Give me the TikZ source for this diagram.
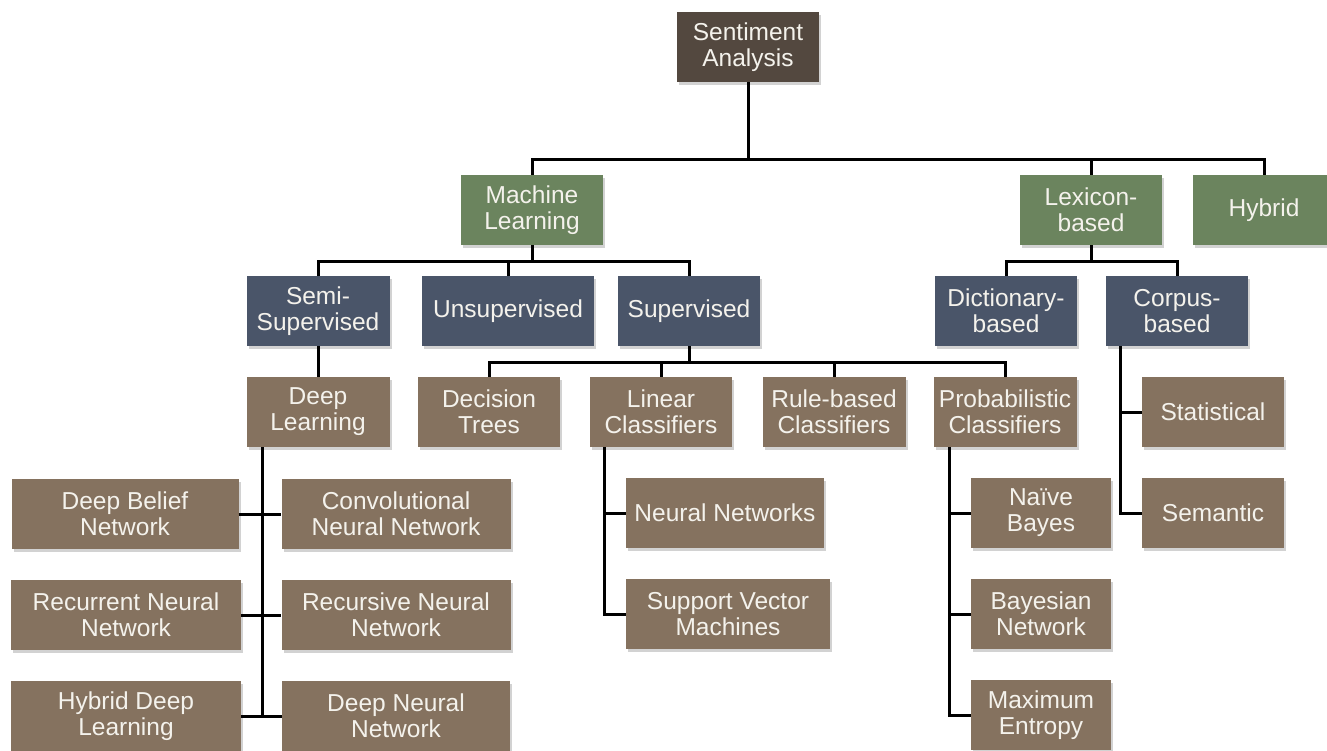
\documentclass[tikz,border=0pt]{standalone}
\usepackage{fontspec}
\setmainfont{Liberation Sans}
\usetikzlibrary{shadows}
\definecolor{cdark}{HTML}{53483F}
\definecolor{cgreen}{HTML}{6B845E}
\definecolor{cblue}{HTML}{4A5569}
\definecolor{cbrown}{HTML}{85725F}
\definecolor{ctext}{HTML}{F4F2EC}
\tikzset{
  box/.style={rectangle, minimum height=70pt, inner sep=0pt, align=center,
    text=ctext, font=\fontsize{24.5}{26}\selectfont,
    drop shadow={opacity=0.35, shadow xshift=2pt, shadow yshift=-3pt}},
  darkbox/.style={box, fill=cdark},
  greenbox/.style={box, fill=cgreen},
  bluebox/.style={box, fill=cblue},
  brownbox/.style={box, fill=cbrown},
  conn/.style={draw=black, line width=3pt, line join=miter}
}
\begin{document}
\begin{tikzpicture}[x=1pt, y=-1pt]
\useasboundingbox (0,0) rectangle (1327,751);
\fill[white] (0,0) rectangle (1327,751);
% buses
\coordinate (bus1) at (0,160);
\coordinate (bus2) at (0,262);
\coordinate (bus3) at (0,362);
% level 1
\node[darkbox, minimum width=142pt] (sa) at (748,47) {Sentiment\\Analysis};
% level 2
\node[greenbox, minimum width=142pt] (ml) at (532,210) {Machine\\Learning};
\node[greenbox, minimum width=142pt] (lex) at (1091,210) {Lexicon-\\based};
\node[greenbox, minimum width=142pt] (hyb) at (1264,210) {Hybrid};
% level 3
\node[bluebox, minimum width=143pt] (semi) at (318,311) {Semi-\\Supervised};
\node[bluebox, minimum width=172pt] (unsup) at (508,311) {Unsupervised};
\node[bluebox, minimum width=142pt] (sup) at (689,311) {Supervised};
\node[bluebox, minimum width=142pt] (dict) at (1006,311) {Dictionary-\\based};
\node[bluebox, minimum width=142pt] (corp) at (1177,311) {Corpus-\\based};
% level 4
\node[brownbox, minimum width=143pt] (dl) at (318,412) {Deep\\Learning};
\node[brownbox, minimum width=142pt] (dt) at (489,412) {Decision\\Trees};
\node[brownbox, minimum width=142pt] (lc) at (661,412) {Linear\\Classifiers};
\node[brownbox, minimum width=143pt] (rb) at (834,412) {Rule-based\\Classifiers};
\node[brownbox, minimum width=143pt] (pc) at (1005,412) {Probabilistic\\Classifiers};
\node[brownbox, minimum width=142pt] (stat) at (1213,412) {Statistical};
\node[brownbox, minimum width=142pt] (sem) at (1213,513) {Semantic};
% linear children
\node[brownbox, minimum width=198pt] (nn) at (725,513) {Neural Networks};
\node[brownbox, minimum width=204pt] (svm) at (728,614) {Support Vector\\Machines};
% probabilistic children
\node[brownbox, minimum width=140pt] (nb) at (1041,513) {Naïve\\Bayes};
\node[brownbox, minimum width=140pt] (bn) at (1041,614) {Bayesian\\Network};
\node[brownbox, minimum width=140pt] (me) at (1041,715) {Maximum\\Entropy};
% deep learning children
\node[brownbox, minimum width=227pt] (dbn) at (125,514) {Deep Belief\\Network};
\node[brownbox, minimum width=229pt] (cnn) at (396,514) {Convolutional\\Neural Network};
\node[brownbox, minimum width=230pt] (rnn) at (126,615) {Recurrent Neural\\Network};
\node[brownbox, minimum width=229pt] (recnn) at (396,615) {Recursive Neural\\Network};
\node[brownbox, minimum width=230pt] (hdl) at (126,716) {Hybrid Deep\\Learning};
\node[brownbox, minimum width=228pt] (dnn) at (396,716) {Deep Neural\\Network};
% connectors level 1-2
\draw[conn] (sa.south) -- (sa.south |- bus1);
\draw[conn] (ml.north) -- (ml.north |- bus1) -- (hyb.north |- bus1) -- (hyb.north);
\draw[conn] (lex.north) -- (lex.north |- bus1);
% ML
\draw[conn] (ml.south) -- (ml.south |- bus2);
\draw[conn] (semi.north) -- (semi.north |- bus2) -- (sup.north |- bus2) -- (sup.north);
\draw[conn] (unsup.north) -- (unsup.north |- bus2);
% Lexicon
\draw[conn] (lex.south) -- (lex.south |- bus2);
\draw[conn] (dict.north) -- (dict.north |- bus2) -- (corp.north |- bus2) -- (corp.north);
% Semi -> DL
\draw[conn] (semi.south) -- (dl.north);
% Supervised
\draw[conn] (sup.south) -- (sup.south |- bus3);
\draw[conn] (dt.north) -- (dt.north |- bus3) -- (pc.north |- bus3) -- (pc.north);
\draw[conn] (lc.north) -- (lc.north |- bus3);
\draw[conn] (rb.north) -- (rb.north |- bus3);
% Deep learning tree
\coordinate (dlx) at ([xshift=16pt]dl.south west);
\draw[conn] (dlx) -- (dlx |- dnn.west);
\draw[conn] (dbn.east) -- (cnn.west);
\draw[conn] (rnn.east) -- (recnn.west);
\draw[conn] (hdl.east) -- (dnn.west);
% Linear tree
\coordinate (lcx) at ([xshift=15pt]lc.south west);
\draw[conn] (lcx) -- (lcx |- svm.west) -- (svm.west);
\draw[conn] (lcx |- nn.west) -- (nn.west);
% Probabilistic tree
\coordinate (pcx) at ([xshift=16pt]pc.south west);
\draw[conn] (pcx) -- (pcx |- me.west) -- (me.west);
\draw[conn] (pcx |- nb.west) -- (nb.west);
\draw[conn] (pcx |- bn.west) -- (bn.west);
% Corpus tree
\coordinate (cpx) at ([xshift=15pt]corp.south west);
\draw[conn] (cpx) -- (cpx |- sem.west) -- (sem.west);
\draw[conn] (cpx |- stat.west) -- (stat.west);
\end{tikzpicture}
\end{document}
